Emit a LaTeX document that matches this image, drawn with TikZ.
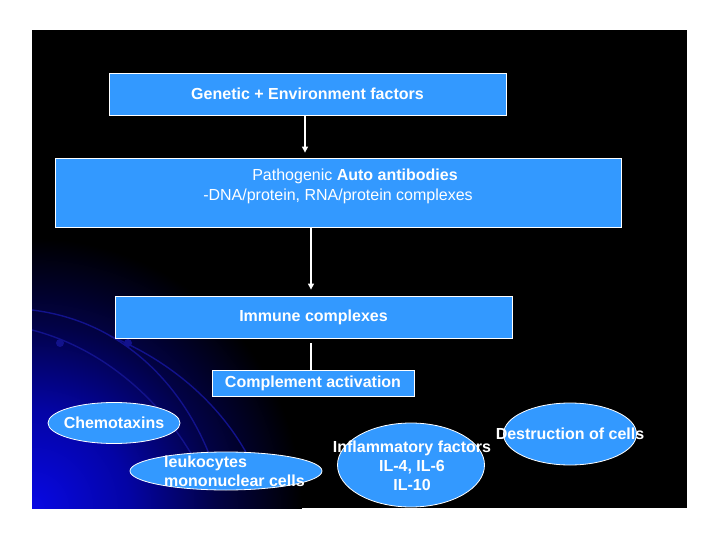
\documentclass[tikz,border=0pt]{standalone}
\usepackage{fontspec}
\setmainfont{Liberation Sans}
\usetikzlibrary{shapes.geometric,arrows.meta}
\definecolor{boxblue}{RGB}{51,153,255}
\definecolor{deepblue}{RGB}{8,8,228}
\definecolor{midblue}{RGB}{4,4,165}
\definecolor{darkblue}{RGB}{2,2,70}
\definecolor{arcblue}{RGB}{18,18,140}
\pgfdeclareradialshading{cornerglow}{\pgfpoint{0bp}{0bp}}{color(0bp)=(deepblue); color(9bp)=(midblue); color(17bp)=(darkblue); color(25bp)=(black); color(50bp)=(black)}

\begin{document}
\begin{tikzpicture}[x=1pt, y=-1pt, font=\fontsize{16}{19}\selectfont\bfseries,
      >={Triangle[length=6pt,width=6pt]},
      bx/.style={draw=white, fill=boxblue, line width=0.8pt, inner sep=0pt, text=white},
      ov/.style={ellipse, draw=white, fill=boxblue, line width=0.8pt, inner sep=0pt},
      txt/.style={text=white, align=center, inner sep=0pt},
      arr/.style={white, line width=1.1pt}]
    \useasboundingbox (0,0) rectangle (720,540);
    % slide background
    \fill[white] (0,0) rectangle (720,540);
    \fill[black] (32,30) rectangle (687,508);
    \begin{scope}
      \clip (32,30) rectangle (687,508);
      \shade[shading=cornerglow] (32,508) circle (270);
      \draw[arcblue, line width=1.4pt] (32,310) .. controls (130,322) and (190,395) .. (215,470);
      \draw[arcblue, line width=1.4pt] (32,330) .. controls (110,350) and (170,410) .. (200,470);
      \draw[arcblue, line width=1.4pt] (110,336) .. controls (180,365) and (230,415) .. (255,470);
      \fill[arcblue] (60,343) circle (4) (128,343) circle (4);
    \end{scope}
    % boxes
    \node[bx, minimum width=397, minimum height=42] (genet) at (307.5,94) {Genetic + Environment factors};
    \node[bx, minimum width=566, minimum height=69] (auto) at (338,192.5) {};
    \node[txt, font=\fontsize{16}{20}\selectfont] (autotxt) at (338,186)
      {\hspace*{34pt}Pathogenic \textbf{Auto antibodies}\\-DNA/protein, RNA/protein complexes};
    \node[bx, minimum width=397, minimum height=42] (immun) at (313.5,317) {Immune complexes};
    \node[bx, minimum width=202, minimum height=26] (compl) at (313,383) {Complement activation};
    % ovals
    \node[ov, minimum width=132, minimum height=41] (chemo) at (114,423) {};
    \node[ov, minimum width=192, minimum height=38] (leuko) at (226,471) {};
    \node[ov, minimum width=147, minimum height=84] (infl) at (411,465) {};
    \node[ov, minimum width=133, minimum height=62] (destr) at (570,434) {};
    \node[txt] (chemotxt) at (chemo) {Chemotaxins};
    \node[txt, align=left, anchor=west] (leukotxt) at (164,471) {leukocytes\\mononuclear cells};
    \node[txt] (infltxt) at (412,466) {Inflammatory factors\\IL-4, IL-6\\IL-10};
    \node[txt] (destrtxt) at (570,434) {Destruction of cells};
    % connectors
    \draw[arr, ->, shorten >=5pt] ([xshift=-2.5pt]genet.south) -- ([xshift=-2.5pt]genet.south |- auto.north);
    \draw[arr, ->, shorten >=6pt] ([xshift=-27pt]auto.south) -- ([xshift=-27pt]auto.south |- immun.north);
    \draw[arr, shorten <=5pt] ([xshift=-2.5pt]immun.south) -- ([xshift=-2.5pt]immun.south |- compl.north);
  \end{tikzpicture}
\end{document}
